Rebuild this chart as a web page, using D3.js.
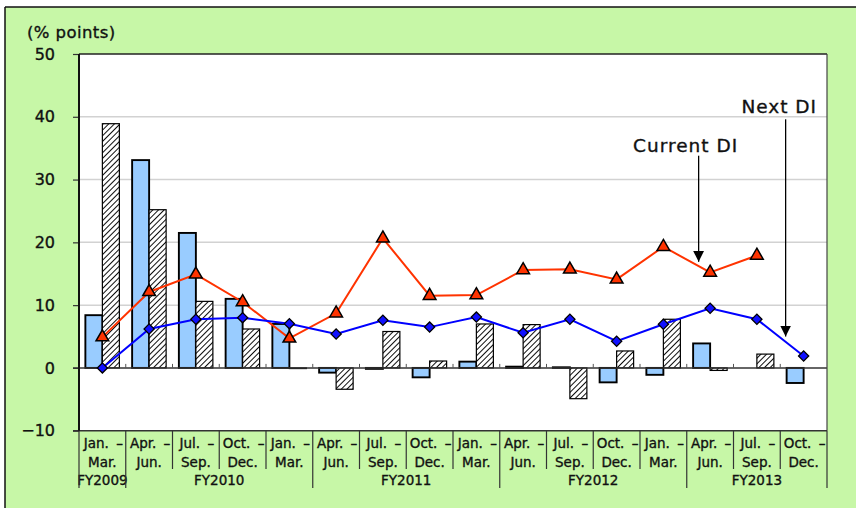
<!DOCTYPE html>
<html>
<head>
<meta charset="utf-8">
<script src="https://cdn.jsdelivr.net/npm/d3@7"></script>
<style>
  html, body { margin: 0; padding: 0; background: #ffffff; }
  svg { display: block; }
  text { font-family: "DejaVu Sans", "Noto Sans", sans-serif; fill: #111; stroke: #111; stroke-width: 0.35px; }
</style>
</head>
<body>
<svg id="chart" width="856" height="508"></svg>
<script>
// Quarter labels (two rows) and fiscal-year groups
const quarterTop = ["Jan. –", "Apr. –", "Jul. –", "Oct. –", "Jan. –", "Apr. –", "Jul. –", "Oct. –",
                    "Jan. –", "Apr. –", "Jul. –", "Oct. –", "Jan. –", "Apr. –", "Jul. –", "Oct. –"];
const quarterBottom = ["Mar.", "Jun.", "Sep.", "Dec.", "Mar.", "Jun.", "Sep.", "Dec.",
                       "Mar.", "Jun.", "Sep.", "Dec.", "Mar.", "Jun.", "Sep.", "Dec."];
const fiscalYears = ["FY2009", "FY2010", "FY2011", "FY2012", "FY2013"];
const fiscalYearSpan = [1, 4, 4, 4, 3];

// Bar series (% points)
const barSolid = [8.4, 33.1, 21.5, 11.0, 7.0, -0.75, -0.15, -1.5, 1.0, 0.2, 0.1, -2.3, -1.1, 3.9, null, -2.4];
const barHatched = [38.9, 25.2, 10.6, 6.2, -0.1, -3.4, 5.8, 1.1, 7.0, 6.9, -4.9, 2.7, 7.75, -0.4, 2.2, null];

// Line series (% points)
const currentDI = [4.9, 12.1, 14.9, 10.5, 4.7, 8.7, 20.65, 11.5, 11.6, 15.6, 15.7, 14.1, 19.3, 15.2, 17.9, null];
const nextDI = [0.0, 6.2, 7.75, 8.0, 7.05, 5.4, 7.6, 6.5, 8.1, 5.6, 7.75, 4.25, 6.95, 9.5, 7.75, 1.9];

const yTicks = [50, 40, 30, 20, 10, 0, -10];

const svg = d3.select("#chart");
const W = 856, H = 508;
const plot = { left: 79, right: 827, top: 54, bottom: 430.7 };

const idx = d3.range(quarterTop.length);
const x = d3.scaleBand().domain(idx).range([plot.left, plot.right]).padding(0);
const xSub = d3.scaleBand().domain(["solid", "hatched"]).range([0, x.bandwidth()])
  .paddingInner(0).paddingOuter(0.375);
const y = d3.scaleLinear().domain([-10, 50]).range([plot.bottom, plot.top]);
const cx = i => x(i) + x.bandwidth() / 2;

// Hatch pattern
const defs = svg.append("defs");
const hs = 4;
const pat = defs.append("pattern").attr("id", "hatch").attr("patternUnits", "userSpaceOnUse")
  .attr("width", hs).attr("height", hs).attr("patternTransform", "rotate(45)");
pat.append("rect").attr("width", hs).attr("height", hs).attr("fill", "#fff");
pat.append("line").attr("x1", 0).attr("y1", 0).attr("x2", 0).attr("y2", hs)
  .attr("stroke", "#000").attr("stroke-width", 1.9);

defs.append("marker").attr("id", "arrow").attr("viewBox", "0 0 10 10")
  .attr("refX", 10).attr("refY", 5).attr("markerWidth", 11).attr("markerHeight", 11)
  .attr("markerUnits", "userSpaceOnUse").attr("orient", "auto")
  .append("path").attr("d", "M0,0 L10,5 L0,10 Z").attr("fill", "#000");

// Background panel
svg.append("rect").attr("x", 0).attr("y", 0).attr("width", W).attr("height", H).attr("fill", "#fff");
svg.append("rect").attr("x", 5).attr("y", 7).attr("width", W).attr("height", H)
  .attr("fill", "#c7f7a7");
svg.append("line").attr("x1", 5).attr("x2", W).attr("y1", 7).attr("y2", 7).attr("stroke", "#111").attr("stroke-width", 1.5);
svg.append("line").attr("x1", 5).attr("x2", 5).attr("y1", 7).attr("y2", H).attr("stroke", "#111").attr("stroke-width", 1.5);

// Plot area
svg.append("rect").attr("x", plot.left).attr("y", plot.top)
  .attr("width", plot.right - plot.left).attr("height", plot.bottom - plot.top).attr("fill", "#fff");

// Gridlines
svg.append("g").selectAll("line").data(yTicks.filter(v => v > 0 && v < 50)).join("line")
  .attr("x1", plot.left).attr("x2", plot.right).attr("y1", d => y(d)).attr("y2", d => y(d))
  .attr("stroke", "#d2d2d2").attr("stroke-width", 1.5);

// Y axis
const yAxis = d3.axisLeft(y).tickValues(yTicks).tickSize(6).tickPadding(18)
  .tickFormat(d => d < 0 ? "−" + Math.abs(d) : d);
const gy = svg.append("g").attr("transform", `translate(${plot.left},0)`).call(yAxis);
gy.select(".domain").remove();
gy.selectAll(".tick line").attr("stroke", "#333").attr("stroke-width", 1.2);
gy.selectAll(".tick text").attr("font-size", 16).attr("fill", "#111")
  .style("font-family", "'DejaVu Sans', sans-serif");

svg.append("text").attr("x", 27).attr("y", 38).attr("font-size", 16.5)
  .attr("letter-spacing", 0.4).text("(% points)");

// Bars
const bars = svg.append("g");
function drawBars(values, key, fill) {
  bars.selectAll("rect." + key)
    .data(values.map((v, i) => ({ v, i })).filter(d => d.v !== null))
    .join("rect").attr("class", key)
    .attr("x", d => x(d.i) + xSub(key))
    .attr("width", xSub.bandwidth())
    .attr("y", d => y(Math.max(0, d.v)))
    .attr("height", d => Math.abs(y(d.v) - y(0)))
    .attr("fill", fill).attr("stroke", "#000")
    .attr("stroke-width", key === "solid" ? 1.9 : 1.2);
}
drawBars(barSolid, "solid", "#99ccff");
drawBars(barHatched, "hatched", "url(#hatch)");

// Zero line and category ticks
svg.append("line").attr("x1", plot.left - 6).attr("x2", plot.right).attr("y1", y(0)).attr("y2", y(0))
  .attr("stroke", "#333").attr("stroke-width", 1.5);
svg.append("g").selectAll("line").data(idx.slice(1)).join("line")
  .attr("x1", d => x(d)).attr("x2", d => x(d)).attr("y1", y(0)).attr("y2", y(0) - 4)
  .attr("stroke", "#555").attr("stroke-width", 1);

// Plot frame
svg.append("line").attr("x1", plot.left).attr("x2", plot.right).attr("y1", plot.top).attr("y2", plot.top)
  .attr("stroke", "#222").attr("stroke-width", 1.5);
svg.append("line").attr("x1", plot.right).attr("x2", plot.right).attr("y1", plot.top).attr("y2", plot.bottom)
  .attr("stroke", "#444").attr("stroke-width", 1.2);
svg.append("line").attr("x1", plot.left - 6).attr("x2", plot.right).attr("y1", plot.bottom).attr("y2", plot.bottom)
  .attr("stroke", "#333").attr("stroke-width", 1.5);
svg.append("line").attr("x1", plot.left).attr("x2", plot.left).attr("y1", plot.top).attr("y2", plot.bottom)
  .attr("stroke", "#111").attr("stroke-width", 2);

// Lines
const lineGen = d3.line().defined(d => d.v !== null).x(d => cx(d.i)).y(d => y(d.v));
const curPts = currentDI.map((v, i) => ({ v, i }));
const nextPts = nextDI.map((v, i) => ({ v, i }));
svg.append("path").attr("d", lineGen(curPts)).attr("fill", "none").attr("stroke", "#ff3300").attr("stroke-width", 2);
svg.append("path").attr("d", lineGen(nextPts)).attr("fill", "none").attr("stroke", "#0000ff").attr("stroke-width", 2);

const tri = d3.symbol().type(d3.symbolTriangle).size(70);
svg.append("g").selectAll("path").data(curPts.filter(d => d.v !== null)).join("path")
  .attr("d", tri).attr("transform", d => `translate(${cx(d.i)},${y(d.v)})`)
  .attr("fill", "#ff3300").attr("stroke", "#000").attr("stroke-width", 1.5);
const dia = d3.symbol().type(d3.symbolSquare).size(52);
svg.append("g").selectAll("path").data(nextPts).join("path")
  .attr("d", dia).attr("transform", d => `translate(${cx(d.i)},${y(d.v)}) rotate(45)`)
  .attr("fill", "#1010ff").attr("stroke", "#000").attr("stroke-width", 1.3);

// Category labels
const labels = svg.append("g");
labels.selectAll("text.q1").data(idx).join("text").attr("class", "q1")
  .attr("x", d => cx(d) + 1).attr("y", 447.5).attr("text-anchor", "middle").attr("font-size", 13.5)
  .attr("word-spacing", 3).text(d => quarterTop[d]);
labels.selectAll("text.q2").data(idx).join("text").attr("class", "q2")
  .attr("x", d => cx(d)).attr("y", 466.7).attr("text-anchor", "middle").attr("font-size", 13.5)
  .text(d => quarterBottom[d]);

// Fiscal-year groups and dividers
const starts = fiscalYearSpan.map((s, k) => d3.sum(fiscalYearSpan.slice(0, k)));
const boundaries = new Set(starts.concat([quarterTop.length]));
svg.append("g").selectAll("line").data(d3.range(quarterTop.length + 1)).join("line")
  .attr("x1", d => plot.left + d * x.step()).attr("x2", d => plot.left + d * x.step())
  .attr("y1", plot.bottom).attr("y2", d => boundaries.has(d) ? 488 : 469)
  .attr("stroke", "#333").attr("stroke-width", 1.2);
labels.selectAll("text.fy").data(fiscalYears).join("text").attr("class", "fy")
  .attr("x", (d, k) => plot.left + (starts[k] + fiscalYearSpan[k] / 2) * x.step())
  .attr("y", 485).attr("text-anchor", "middle").attr("font-size", 13.5)
  .text(d => d);

// Annotations
const curIdx = 13, nextIdx = 15;
svg.append("text").attr("x", cx(curIdx) - 24.5).attr("y", y(35.5) + 6.7).attr("text-anchor", "middle")
  .attr("font-size", 18.5).attr("letter-spacing", 1).text("Current DI");
svg.append("line").attr("x1", cx(curIdx) - 11.5).attr("x2", cx(curIdx) - 11.5)
  .attr("y1", y(33.8)).attr("y2", y(16.9)).attr("stroke", "#000").attr("stroke-width", 1.3)
  .attr("marker-end", "url(#arrow)");
svg.append("text").attr("x", cx(nextIdx) - 24.4).attr("y", y(41.7) + 7.2).attr("text-anchor", "middle")
  .attr("font-size", 18.5).attr("letter-spacing", 1).text("Next DI");
svg.append("line").attr("x1", cx(nextIdx) - 18).attr("x2", cx(nextIdx) - 18)
  .attr("y1", y(39.6)).attr("y2", y(5.0)).attr("stroke", "#000").attr("stroke-width", 1.3)
  .attr("marker-end", "url(#arrow)");
</script>
</body>
</html>
